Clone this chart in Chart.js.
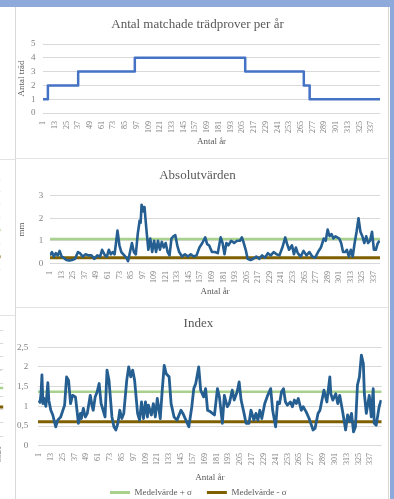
<!DOCTYPE html>
<html>
<head>
<meta charset="utf-8">
<script src="https://cdn.jsdelivr.net/npm/chart.js@4/dist/chart.umd.min.js"></script>
<style>
  html, body { margin: 0; padding: 0; background: #fff; overflow: hidden; }
  #page { position: relative; width: 394px; height: 499px; overflow: hidden; }
  #page canvas { position: absolute; }
  .band-top { position: absolute; left: 0; top: 0; width: 394px; height: 7px; background: #8eaadb; }
  .band-right { position: absolute; left: 390px; top: 0; width: 4px; height: 499px; background: #8eaadb; }
  .vline { position: absolute; width: 1px; background: #d9d9d9; }
  .hline { position: absolute; height: 1px; background: #e3e3e3; }
  .sliver { position: absolute; left: 0; width: 15px; overflow: hidden; }
</style>
</head>
<body>
<div id="page">
  <div class="band-top"></div>
  <div class="band-right"></div>

  <div class="sliver" style="top:8px;height:151px"><canvas id="sliverTrees" width="200" height="151" style="left:-190px;top:0"></canvas></div>
  <div class="sliver" style="top:159px;height:156px"><canvas id="sliverAbs" width="200" height="156" style="left:-190px;top:0"></canvas></div>
  <div class="sliver" style="top:315px;height:184px"><canvas id="sliverIndex" width="200" height="184" style="left:-189px;top:0"></canvas></div>

  <canvas id="treesChart" width="373" height="150" style="left:15px;top:8px"></canvas>
  <canvas id="absChart" width="373" height="148" style="left:15px;top:159px"></canvas>
  <canvas id="indexChart" width="373" height="199" style="left:15px;top:308px"></canvas>

  <div class="vline" style="left:15px;top:7px;height:492px"></div>
  <div class="vline" style="left:388px;top:7px;height:492px"></div>
  <div class="hline" style="left:16px;top:158px;width:372px"></div>
  <div class="hline" style="left:16px;top:307px;width:372px"></div>
  <div class="hline" style="left:0;top:159px;width:15px"></div>
  <div class="hline" style="left:0;top:315px;width:15px"></div>
</div>

<script>
// year labels on the x axes
const yearTicks = [1, 13, 25, 37, 49, 61, 73, 85, 97, 109, 121, 133, 145, 157, 169,
  181, 193, 205, 217, 229, 241, 253, 265, 277, 289, 301, 313, 325, 337];

// Antal matchade trädprover per år (points where the count changes)
const treeYears = [1, 6, 37, 95, 208, 268, 274, 346];
const treeCounts = [1, 2, 3, 4, 3, 2, 1, 1];

// Absolutvärden (mm)
const absYears = [1, 3, 5, 7, 9, 11, 13, 15, 18, 21,
  24, 27, 30, 32, 35, 38, 41, 44, 47, 50,
  53, 55, 58, 60, 62, 64, 66, 68, 71, 73,
  75, 78, 80, 82, 84, 86, 88, 90, 92, 94,
  95, 96, 98, 99, 101, 103, 105, 107, 109, 111,
  113, 115, 117, 119, 121, 123, 125, 127, 129, 131,
  133, 135, 138, 141, 144, 147, 150, 153, 156, 159,
  162, 164, 166, 169, 172, 175, 178, 180, 182, 184,
  186, 189, 192, 195, 198, 200, 202, 204, 206, 209,
  212, 215, 218, 221, 224, 227, 230, 233, 236, 239,
  242, 245, 247, 249, 252, 254, 256, 258, 261, 264,
  267, 270, 273, 276, 279, 282, 285, 287, 289, 291,
  293, 295, 297, 299, 301, 303, 305, 307, 309, 311,
  313, 315, 317, 319, 321, 323, 325, 327, 329, 331,
  333, 335, 337, 339, 341, 343];
const absValues = [0.35, 0.5, 0.3, 0.45, 0.35, 0.55, 0.3, 0.25, 0.15, 0.12,
  0.15, 0.2, 0.5, 0.45, 0.3, 0.4, 0.35, 0.35, 0.2, 0.35,
  0.3, 0.6, 0.35, 0.3, 0.6, 0.4, 0.5, 0.4, 1.45, 0.8,
  0.5, 0.35, 0.25, 0.1, 0.5, 0.9, 0.5, 0.4, 1.3, 1.9,
  1.8, 2.6, 2.3, 2.5, 1.5, 0.6, 1.1, 0.5, 1.0, 0.5,
  1.0, 0.6, 0.95, 0.7, 0.9, 0.5, 0.35, 1.1, 1.2, 1.25,
  0.8, 0.5, 0.3, 0.4, 0.3, 0.4, 0.3, 0.35, 0.7, 0.9,
  1.15, 0.85, 0.8, 0.5, 0.5, 0.45, 1.15, 0.9, 0.4, 0.9,
  0.8, 1.0, 0.9, 1.0, 1.0, 1.15, 0.9, 0.6, 0.2, 0.15,
  0.2, 0.3, 0.2, 0.35, 0.25, 0.45, 0.35, 0.5, 0.4, 0.35,
  0.7, 1.15, 0.85, 0.6, 0.8, 0.4, 0.7, 0.45, 0.3, 0.55,
  0.35, 0.5, 0.3, 0.25, 0.5, 0.7, 1.1, 1.0, 1.5, 1.2,
  1.3, 1.1, 1.2, 1.15, 1.1, 0.9, 0.5, 0.5, 0.6, 0.3,
  0.6, 0.3, 0.9, 1.4, 2.0, 1.4, 1.2, 0.9, 1.2, 0.9,
  1.0, 1.4, 0.6, 0.6, 0.9, 1.0];
const absMeanPlus = 1.08;
const absMeanMinus = 0.25;

// Index
const indexYears = [1, 2, 3, 4, 5, 6, 8, 10, 11, 13,
  15, 18, 20, 23, 27, 29, 31, 33, 35, 38,
  41, 43, 44, 46, 48, 50, 53, 55, 56, 58,
  60, 62, 64, 65, 68, 70, 72, 75, 77, 79,
  81, 83, 85, 87, 90, 92, 94, 96, 98, 101,
  103, 105, 107, 109, 111, 112, 115, 117, 119, 121,
  124, 126, 128, 130, 133, 135, 138, 141, 145, 147,
  150, 153, 156, 158, 160, 163, 165, 168, 170, 172,
  175, 179, 182, 184, 187, 189, 192, 194, 197, 199,
  202, 204, 206, 209, 211, 214, 216, 219, 221, 223,
  225, 227, 230, 233, 236, 238, 241, 243, 245, 247,
  249, 251, 253, 256, 258, 260, 262, 264, 267, 269,
  272, 275, 279, 281, 284, 286, 289, 290, 293, 296,
  297, 299, 302, 304, 306, 309, 312, 314, 316, 318,
  320, 322, 324, 326, 328, 330, 331, 333, 336, 338,
  340, 341, 343, 346, 348];
const indexValues = [1.15, 1.1, 1.3, 1.8, 1.07, 1.2, 1.0, 1.6, 1.15, 0.9,
  0.78, 0.48, 0.65, 0.73, 1.03, 1.75, 1.66, 1.07, 1.28, 1.24,
  0.57, 0.82, 0.69, 0.95, 0.73, 0.82, 1.28, 0.99, 0.9, 1.24,
  1.37, 1.58, 1.07, 0.99, 0.73, 1.92, 1.66, 0.73, 0.48, 0.4,
  0.57, 0.9, 0.69, 0.82, 1.66, 2.0, 1.75, 1.92, 1.66, 0.82,
  0.65, 1.11, 0.69, 1.11, 0.73, 1.03, 0.78, 1.07, 0.73, 1.2,
  0.69, 1.41, 2.04, 1.83, 1.75, 1.07, 0.73, 0.65, 0.9, 0.82,
  0.65, 0.48, 0.99, 1.45, 1.58, 2.0, 1.41, 1.24, 1.45, 0.9,
  0.86, 0.78, 1.45, 1.24, 0.57, 1.28, 0.99, 1.07, 1.41, 1.16,
  1.37, 1.62, 1.16, 0.82, 0.57, 0.57, 0.9, 0.65, 0.82, 0.65,
  0.9, 0.69, 1.07, 1.28, 1.45, 0.9, 0.48, 1.11, 1.07, 1.37,
  1.45, 1.11, 1.03, 1.11, 0.99, 1.16, 1.07, 1.2, 0.9, 0.99,
  0.86, 0.69, 0.4, 0.44, 0.82, 0.9, 1.28, 1.41, 1.11, 1.75,
  1.32, 1.16, 1.32, 1.07, 1.28, 0.86, 0.4, 0.78, 0.61, 0.82,
  0.35, 0.48, 1.54, 1.75, 2.3, 2.08, 1.32, 0.82, 1.28, 0.73,
  1.45, 0.57, 0.52, 0.99, 1.16];
const indexMeanPlus = 1.37;
const indexMeanMinus = 0.61;

// the neighbouring charts, only their right edge is visible
const leftTreeYears = [5500, 5525];
const leftTreeCounts = [1, 1];
const leftAbsYears = [5521, 5522, 5523, 5524, 5525];
const leftAbsValues = [0.5, 0.6, 0.7, 0.35, 0.55];
const leftAbsPlus = 1.52;
const leftAbsMinus = 0.49;
const leftIndexYears = [5517, 5518, 5519, 5520, 5521];
const leftIndexValues = [1.8, 2.0, 1.95, 1.85, 2.5];
const leftIndexPlus = 1.81;
const leftIndexMinus = 1.09;

const serif = "'Liberation Serif', 'Times New Roman', serif";
const grey = '#595959';
const blue = '#255e91';
const green = '#a9d18e';
const brown = '#7f6000';
Chart.defaults.font.family = serif;
Chart.defaults.color = '#7f7f7f';

const points = (xs, ys) => xs.map((x, i) => ({ x: x, y: ys[i] }));
const flat = (x0, x1, y) => [{ x: x0, y: y }, { x: x1, y: y }];
const comma = v => String(v).replace('.', ',');

function series(label, data, color, width) {
  return { label: label, data: data, borderColor: color, backgroundColor: color, borderWidth: width };
}

function panelChart(id, cfg) {
  return new Chart(document.getElementById(id), {
    type: 'line',
    data: { datasets: cfg.datasets },
    options: {
      responsive: false,
      animation: false,
      events: [],
      layout: { padding: cfg.padding },
      elements: { point: { radius: 0 }, line: { tension: 0, borderJoinStyle: 'round' } },
      plugins: {
        title: { display: true, text: cfg.title, color: grey, font: { size: 13, weight: 'normal' }, padding: cfg.titlePad },
        legend: cfg.legend || { display: false },
        tooltip: { enabled: false }
      },
      scales: {
        x: {
          type: 'linear', min: cfg.xMin, max: cfg.xMax,
          afterBuildTicks: s => { s.ticks = yearTicks.map(v => ({ value: v })); },
          afterFit: s => { s.height = cfg.xHeight; },
          grid: { display: false }, border: { display: false },
          ticks: { autoSkip: false, minRotation: 90, maxRotation: 90, padding: cfg.xTickPad, font: { size: 8 }, callback: v => String(v) },
          title: { display: true, text: 'Antal år', color: grey, font: { size: 9 }, padding: { top: 0, bottom: cfg.xTitlePad } }
        },
        y: {
          min: 0, max: cfg.yMax,
          afterFit: s => { s.width = cfg.yWidth; },
          grid: { color: '#d9d9d9', drawTicks: false }, border: { display: false },
          ticks: { stepSize: cfg.yStep, padding: cfg.yTickPad, font: { size: 9 }, callback: comma },
          title: { display: !!cfg.yTitle, text: cfg.yTitle, color: grey, font: { size: 9 }, padding: { top: cfg.yTitlePad, bottom: 0 } }
        }
      }
    }
  });
}

// about 8 px per year, the last year sits half a step inside the edge
function sliverChart(id, cfg) {
  return new Chart(document.getElementById(id), {
    type: 'line',
    data: { datasets: cfg.datasets },
    options: {
      responsive: false,
      animation: false,
      events: [],
      layout: { padding: { top: cfg.top, right: 2, left: 0, bottom: 0 } },
      elements: { point: { radius: 0 }, line: { tension: 0 } },
      plugins: { legend: { display: false }, tooltip: { enabled: false } },
      scales: {
        x: {
          type: 'linear', min: cfg.lastYear - 23.5, max: cfg.lastYear + 0.5,
          afterBuildTicks: s => { s.ticks = [{ value: cfg.lastYear }]; },
          afterFit: s => { s.height = cfg.xHeight; },
          grid: { display: false }, border: { display: false },
          ticks: { autoSkip: false, minRotation: 90, maxRotation: 90, padding: cfg.xTickPad, font: { size: 8 }, callback: v => String(v) }
        },
        y: {
          min: cfg.yMin, max: cfg.yMax,
          afterFit: s => { s.width = 8; },
          grid: { color: '#d9d9d9', drawTicks: false }, border: { display: false },
          ticks: { display: false, stepSize: cfg.yStep }
        }
      }
    }
  });
}

// left neighbours
sliverChart('sliverTrees', {
  top: 27, xHeight: 48.4, xTickPad: 10.4, lastYear: 5525, yMin: 1, yMax: 7, yStep: 1,
  datasets: [Object.assign(series('Antal träd', points(leftTreeYears, leftTreeCounts), '#4472c4', 2.5), { stepped: true })]
});
sliverChart('sliverAbs', {
  top: 20, xHeight: 45.7, xTickPad: 3.7, lastYear: 5525, yMin: 0, yMax: 3.5, yStep: 0.5,
  datasets: [
    series('mm', points(leftAbsYears, leftAbsValues), blue, 2.5),
    series('Medelvärde + σ', flat(5500, 5526, leftAbsPlus), green, 2.5),
    series('Medelvärde - σ', flat(5500, 5526, leftAbsMinus), brown, 3)
  ]
});
sliverChart('sliverIndex', {
  top: 15, xHeight: 63, xTickPad: 2, lastYear: 5521, yMin: 0, yMax: 4, yStep: 0.5,
  datasets: [
    series('Index', points(leftIndexYears, leftIndexValues), blue, 2.5),
    series('Medelvärde + σ', flat(5490, 5522, leftIndexPlus), green, 2.5),
    series('Medelvärde - σ', flat(5490, 5522, leftIndexMinus), brown, 3)
  ]
});

// Antal matchade trädprover per år
panelChart('treesChart', {
  title: 'Antal matchade trädprover per år',
  padding: { left: 0, right: 8, top: 0, bottom: 0 },
  titlePad: { top: 9, bottom: 11.4 },
  xMin: 1, xMax: 346, xHeight: 45, xTickPad: 0, xTitlePad: 10.6,
  yMax: 5, yStep: 1, yWidth: 28, yTickPad: 7.5, yTitle: 'Antal träd', yTitlePad: 1.1,
  datasets: [Object.assign(series('Antal träd', points(treeYears, treeCounts), '#4472c4', 2.5), { stepped: true })]
});

// Absolutvärden
panelChart('absChart', {
  title: 'Absolutvärden',
  padding: { left: 0, right: 8, top: 0, bottom: 0 },
  titlePad: { top: 8.9, bottom: 12.2 },
  xMin: 1, xMax: 343.3, xHeight: 43.7, xTickPad: -0.3, xTitlePad: 9.9,
  yMax: 3, yStep: 0.5, yWidth: 35, yTickPad: 6.7, yTitle: 'mm', yTitlePad: 1.3,
  datasets: [
    series('Absolutvärden', points(absYears, absValues), blue, 2.6),
    series('Medelvärde + σ', flat(1, 343.3, absMeanPlus), green, 2.5),
    series('Medelvärde - σ', flat(1, 343.3, absMeanMinus), brown, 3)
  ]
});

// Index
panelChart('indexChart', {
  title: 'Index',
  padding: { left: 0, right: 6.3, top: 0, bottom: 0 },
  titlePad: { top: 8.2, bottom: 15.5 },
  xMin: 0, xMax: 348.6, xHeight: 27.3, xTickPad: -0.7, xTitlePad: -10.4,
  yMax: 2.5, yStep: 0.5, yWidth: 23, yTickPad: 9.7, yTitle: '', yTitlePad: 0,
  legend: {
    display: true, position: 'bottom',
    labels: {
      color: grey, font: { size: 9 }, boxWidth: 20, boxHeight: 3, padding: 15,
      generateLabels: chart => Chart.defaults.plugins.legend.labels.generateLabels(chart)
        .filter(item => item.text.startsWith('Medelvärde'))
        .map(item => Object.assign(item, { lineWidth: 0 }))
    }
  },
  datasets: [
    series('Index', points(indexYears, indexValues), blue, 2.8),
    series('Medelvärde + σ', flat(0, 348.6, indexMeanPlus), green, 2.5),
    series('Medelvärde - σ', flat(0, 348.6, indexMeanMinus), brown, 3)
  ]
});
</script>
</body>
</html>
